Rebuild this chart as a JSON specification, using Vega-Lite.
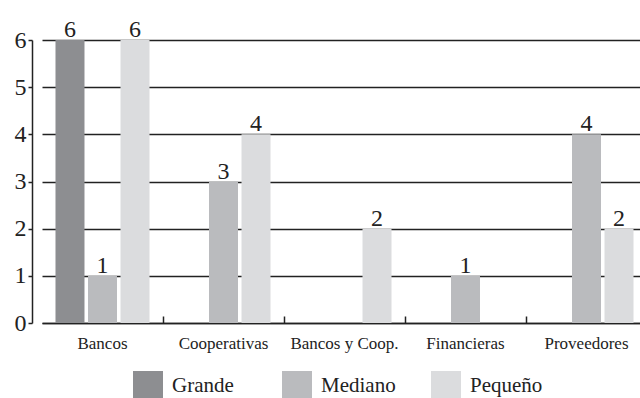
{
  "$schema": "https://vega.github.io/schema/vega-lite/v6.json",
  "width": 608,
  "height": 283,
  "autosize": {"type": "none"},
  "padding": {"left": 32, "top": 40, "right": 0, "bottom": 75},
  "background": "white",
  "config": {
    "view": {"stroke": null},
    "font": "Liberation Serif, DejaVu Serif, serif"
  },
  "data": {
    "values": [
      {"cat": "Bancos", "size": "Grande", "v": 6},
      {"cat": "Bancos", "size": "Mediano", "v": 1},
      {"cat": "Bancos", "size": "Pequeño", "v": 6},
      {"cat": "Cooperativas", "size": "Grande", "v": 0},
      {"cat": "Cooperativas", "size": "Mediano", "v": 3},
      {"cat": "Cooperativas", "size": "Pequeño", "v": 4},
      {"cat": "Bancos y Coop.", "size": "Grande", "v": 0},
      {"cat": "Bancos y Coop.", "size": "Mediano", "v": 0},
      {"cat": "Bancos y Coop.", "size": "Pequeño", "v": 2},
      {"cat": "Financieras", "size": "Grande", "v": 0},
      {"cat": "Financieras", "size": "Mediano", "v": 1},
      {"cat": "Financieras", "size": "Pequeño", "v": 0},
      {"cat": "Proveedores", "size": "Grande", "v": 0},
      {"cat": "Proveedores", "size": "Mediano", "v": 4},
      {"cat": "Proveedores", "size": "Pequeño", "v": 2}
    ]
  },
  "encoding": {
    "x": {
      "field": "cat", "type": "nominal",
      "sort": ["Bancos", "Cooperativas", "Bancos y Coop.", "Financieras", "Proveedores"],
      "scale": {"range": [10, 615], "paddingInner": 0, "paddingOuter": 0},
      "axis": {
        "title": null, "labelAngle": 0, "bandPosition": 0,
        "labelFontSize": 17, "labelColor": "#222", "labelFont": "Liberation Serif, DejaVu Serif, serif",
        "domainColor": "#222", "domainWidth": 1.5,
        "tickColor": "#222", "tickWidth": 1.5, "tickSize": -7,
        "tickOpacity": {"condition": {"test": "datum.value === 'Bancos'", "value": 0}, "value": 1},
        "labelPadding": 19, "grid": false
      }
    },
    "xOffset": {
      "field": "size", "type": "nominal",
      "scale": {"paddingInner": 0.108, "paddingOuter": 0.415}
    },
    "y": {
      "field": "v", "type": "quantitative",
      "scale": {"domain": [0, 6], "nice": false},
      "axis": {
        "title": null, "values": [0, 1, 2, 3, 4, 5, 6],
        "labelFontSize": 24, "labelColor": "#222", "labelFont": "Liberation Serif, DejaVu Serif, serif",
        "labelPadding": 2, "tickSize": 4, "tickColor": "#222", "tickWidth": 1.5,
        "domainColor": "#222", "domainWidth": 1.5,
        "grid": true, "gridColor": "#222", "gridWidth": 1.5, "gridOpacity": 1
      }
    }
  },
  "layer": [
    {
      "mark": {"type": "bar"},
      "encoding": {
        "color": {
          "field": "size", "type": "nominal",
          "scale": {"domain": ["Grande", "Mediano", "Pequeño"], "range": ["#8d8e91", "#babbbe", "#dbdcde"]},
          "legend": {
            "title": null, "orient": "none", "direction": "horizontal",
            "legendX": 101, "legendY": 331, "gridAlign": "all",
            "symbolType": "square", "symbolSize": 900, "symbolStrokeWidth": 0,
            "labelFontSize": 21, "labelColor": "#222", "labelFont": "Liberation Serif, DejaVu Serif, serif",
            "labelOffset": 9, "columnPadding": 35, "symbolOpacity": 1
          }
        }
      }
    },
    {
      "transform": [{"filter": "datum.v > 0"}],
      "mark": {"type": "text", "baseline": "alphabetic", "dy": -3, "fontSize": 24, "color": "#222", "font": "Liberation Serif, DejaVu Serif, serif"},
      "encoding": {"text": {"field": "v", "type": "quantitative"}}
    }
  ]
}
